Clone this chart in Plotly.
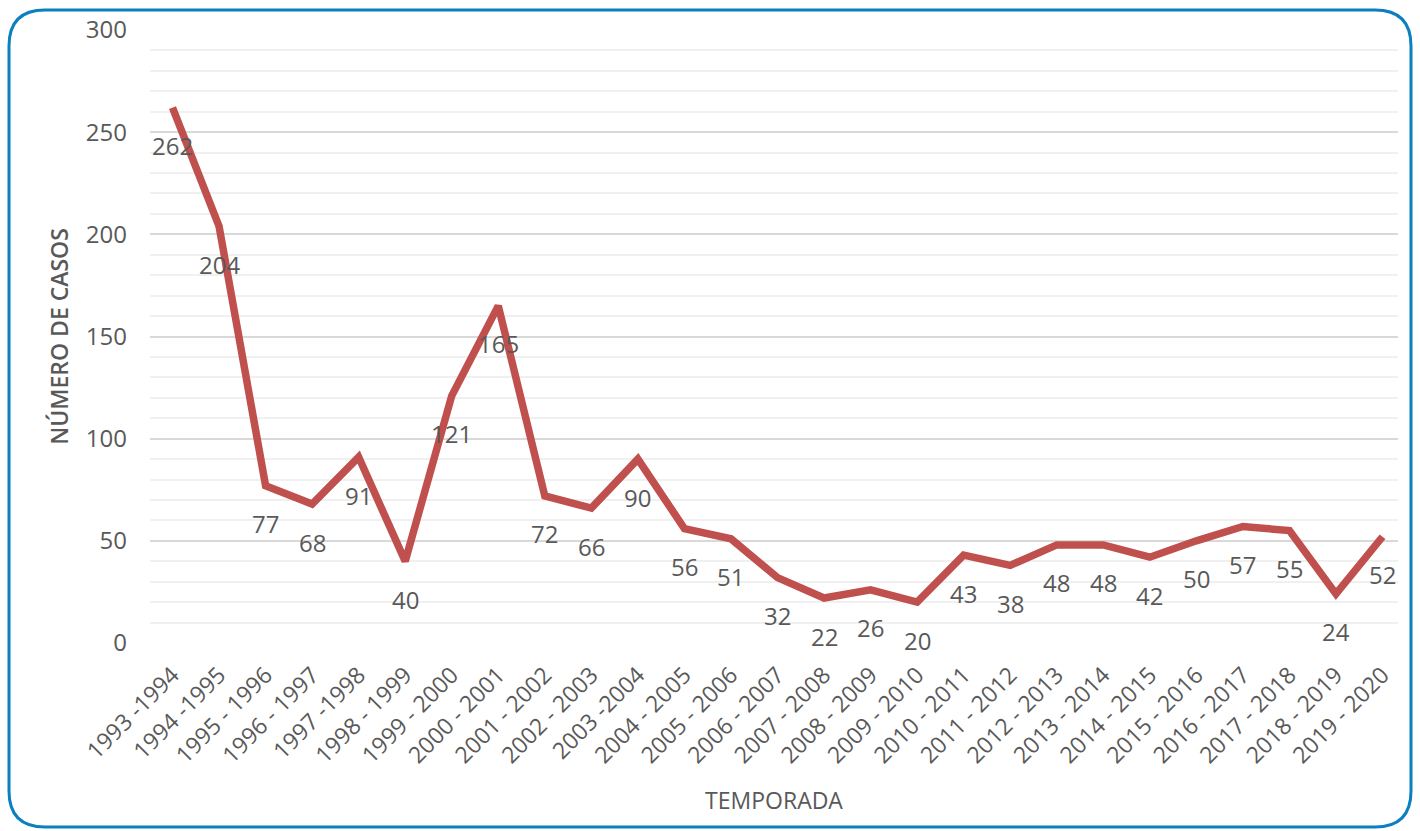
import plotly.graph_objects as go

seasons = ["1993 -1994", "1994 -1995", "1995 - 1996", "1996 - 1997", "1997 -1998",
           "1998 - 1999", "1999 - 2000", "2000 - 2001", "2001 - 2002", "2002 - 2003",
           "2003 -2004", "2004 - 2005", "2005 - 2006", "2006 - 2007", "2007 - 2008",
           "2008 - 2009", "2009 - 2010", "2010 - 2011", "2011 - 2012", "2012 - 2013",
           "2013 - 2014", "2014 - 2015", "2015 - 2016", "2016 - 2017", "2017 - 2018",
           "2018 - 2019", "2019 - 2020"]
cases = [262, 204, 77, 68, 91, 40, 121, 165, 72, 66, 90, 56, 51, 32, 22, 26, 20,
         43, 38, 48, 48, 42, 50, 57, 55, 24, 52]

W, H = 1420, 831
L, R, T, B = 150, 22, 30, 188
FONT = "Open Sans"
GREY = "#595959"

fig = go.Figure()
fig.add_trace(go.Scatter(
    x=seasons, y=cases, mode="lines",
    line=dict(color="#c0504d", width=7.5),
    hoverinfo="x+y", showlegend=False,
))

annotations = []
for s, v in zip(seasons, cases):
    annotations.append(dict(
        x=s, y=v, xref="x", yref="y", text=str(v), showarrow=False,
        yshift=-38, font=dict(family=FONT, size=24, color=GREY),
    ))

# rounded frame around the whole chart (pixel -> paper conversion)
pw, ph = W - L - R, H - T - B
def px(x):
    return (x - L) / pw
def py(y):
    return (H - B - y) / ph

x0, x1, y0, y1, r = 9, 1411, 10, 827, 36
path = (f"M {px(x0 + r)},{py(y0)} L {px(x1 - r)},{py(y0)} "
        f"Q {px(x1)},{py(y0)} {px(x1)},{py(y0 + r)} "
        f"L {px(x1)},{py(y1 - r)} Q {px(x1)},{py(y1)} {px(x1 - r)},{py(y1)} "
        f"L {px(x0 + r)},{py(y1)} Q {px(x0)},{py(y1)} {px(x0)},{py(y1 - r)} "
        f"L {px(x0)},{py(y0 + r)} Q {px(x0)},{py(y0)} {px(x0 + r)},{py(y0)} Z")

fig.update_layout(
    width=W, height=H,
    margin=dict(l=L, r=R, t=T, b=B),
    paper_bgcolor="white", plot_bgcolor="white",
    font=dict(family=FONT, color=GREY),
    annotations=annotations,
    shapes=[dict(type="path", path=path, xref="paper", yref="paper",
                 line=dict(color="#0b7fc0", width=3), layer="below")],
    xaxis=dict(
        type="category", tickangle=-45, showgrid=False, showline=False,
        zeroline=False, ticks="", ticklabelstandoff=13,
        tickfont=dict(family=FONT, size=23, color=GREY),
        title=dict(text="TEMPORADA", standoff=24,
                   font=dict(family=FONT, size=23, color=GREY)),
    ),
    yaxis=dict(
        range=[0, 300], dtick=50, tick0=0, showline=False, zeroline=False,
        gridcolor="#d9d9d9", gridwidth=1.5, ticks="", ticklabelstandoff=22,
        tickfont=dict(family=FONT, size=24, color=GREY),
        minor=dict(dtick=10, showgrid=True, gridcolor="#f0f0f0", gridwidth=1.5),
        title=dict(text="NÚMERO DE CASOS", standoff=10,
                   font=dict(family=FONT, size=23, color=GREY, weight=600)),
    ),
)

fig.write_html("out.html")
